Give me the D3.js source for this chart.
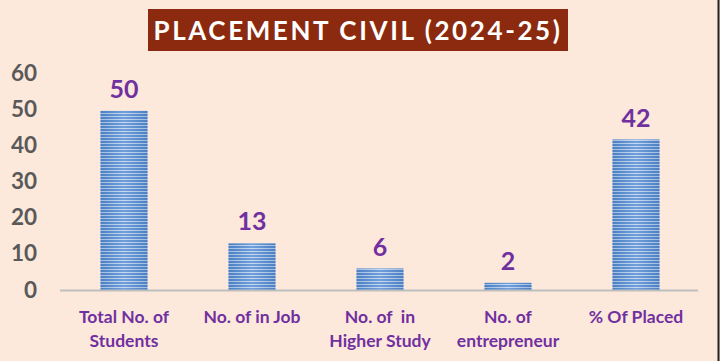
<!DOCTYPE html>
<html><head><meta charset="utf-8">
<script src="https://cdn.jsdelivr.net/npm/d3@7"></script>
<style>body{margin:0;background:#fde9dc;}svg{display:block;}</style>
</head><body>
<script>
const categories = [["Total No. of","Students"],["No. of in Job"],["No. of  in","Higher Study"],["No. of","entrepreneur"],["% Of Placed"]];
const values = [50, 13, 6, 2, 42];
const yTicks = [0,10,20,30,40,50,60];
const title = "PLACEMENT CIVIL (2024-25)";

const W=720,H=361;
const FONT="Lato, 'Open Sans', sans-serif";
const svg=d3.select("body").append("svg").attr("width",W).attr("height",H);
svg.append("rect").attr("width",W).attr("height",H).attr("fill","#fde9dc");
svg.append("line").attr("x1",718.5).attr("x2",718.5).attr("y1",0).attr("y2",H).attr("stroke","#222").attr("stroke-width",2);

const defs=svg.append("defs");
const lg=defs.append("linearGradient").attr("id","hg").attr("x1","0").attr("x2","1").attr("y1","0").attr("y2","0");
lg.append("stop").attr("offset","0").attr("stop-color","#3e6fb0");
lg.append("stop").attr("offset","0.5").attr("stop-color","#a9c8ee");
lg.append("stop").attr("offset","1").attr("stop-color","#3e6fb0");
const pat=defs.append("pattern").attr("id","stripes").attr("patternUnits","userSpaceOnUse").attr("width",720).attr("height",3);
pat.append("rect").attr("width",720).attr("height",3).attr("fill","#d6e4f5");
pat.append("rect").attr("width",720).attr("height",2).attr("fill","#5289d0");

const x=d3.scaleBand().domain(d3.range(categories.length)).range([60,700]).paddingInner(0.633).paddingOuter(0.3165);
const y=d3.scaleLinear().domain([0,60]).range([290,75]);

// title
svg.append("rect").attr("x",148).attr("y",9).attr("width",420).attr("height",42).attr("fill","#8b2a0e");
svg.append("text").attr("x",358).attr("y",40).attr("text-anchor","middle").attr("fill","#fff")
  .attr("font-family",FONT).attr("font-weight","bold").attr("font-size",26).attr("letter-spacing",2.6).text(title);

// y ticks
svg.append("g").selectAll("text").data(yTicks).join("text")
  .attr("x",37).attr("y",d=>y(d)+7.5-(d/60)*2).attr("text-anchor","end").attr("fill","#595959")
  .attr("font-family",FONT).attr("font-weight","bold").attr("font-size",22.5).text(d=>d);

// bars
const g=svg.append("g");
values.forEach((v,i)=>{
  g.append("rect").attr("x",x(i)).attr("y",y(v)).attr("width",x.bandwidth()).attr("height",y(0)-y(v)).attr("fill","url(#stripes)");
  g.append("rect").attr("x",x(i)).attr("y",y(v)).attr("width",x.bandwidth()).attr("height",y(0)-y(v)).attr("fill","url(#hg)").attr("opacity",0.35);
});
// baseline
svg.append("line").attr("x1",60).attr("x2",698).attr("y1",290.5).attr("y2",290.5).attr("stroke","#bfbfbf").attr("stroke-width",2);

// value labels
svg.append("g").selectAll("text").data(values).join("text")
  .attr("x",(d,i)=>x(i)+x.bandwidth()/2).attr("y",d=>y(d)-13).attr("text-anchor","middle").attr("fill","#7030a0")
  .attr("font-family",FONT).attr("font-weight","bold").attr("font-size",25).text(d=>d);

// category labels
const cl=svg.append("g");
categories.forEach((lines,i)=>{
  lines.forEach((t,j)=>{
    cl.append("text").attr("x",x(i)+x.bandwidth()/2).attr("y",323+j*24).attr("text-anchor","middle").attr("fill","#7030a0")
      .attr("font-family",FONT).attr("font-weight","bold").attr("font-size",17.5).style("white-space","pre").text(t);
  });
});
</script>
</body></html>
